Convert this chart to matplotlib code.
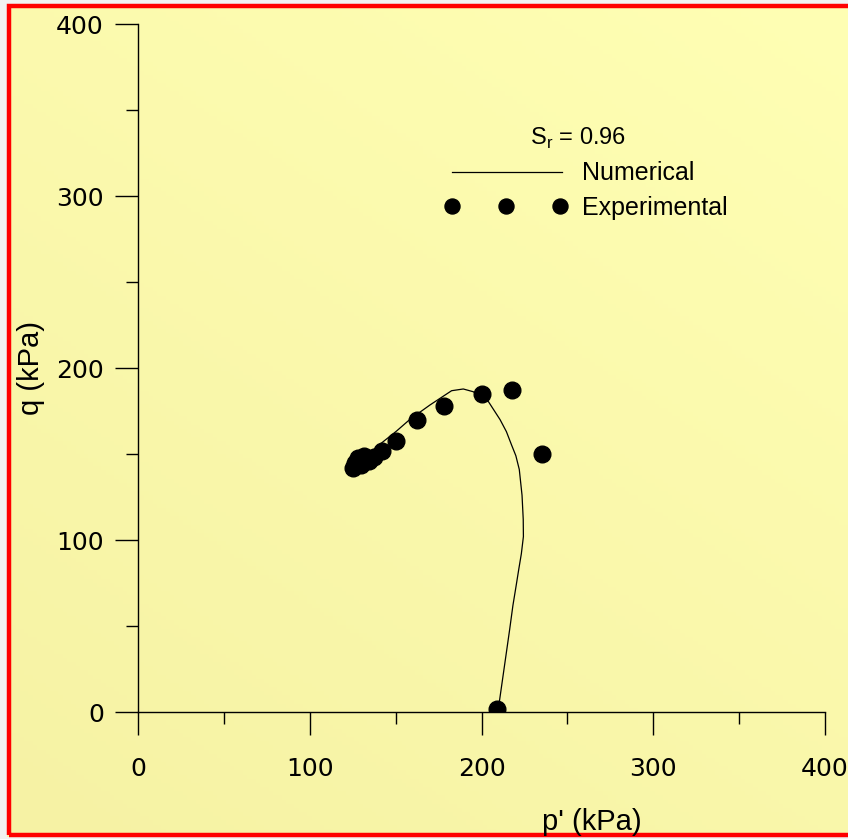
import numpy as np
import matplotlib
matplotlib.use("Agg")
import matplotlib.pyplot as plt
from matplotlib.patches import Rectangle
from matplotlib.ticker import MultipleLocator

# Experimental stress path (p', q) in kPa
exp_p = [209, 235, 218, 200, 178, 162.5, 150.5, 142, 137.5, 134.5, 131.5, 130, 128, 126.5, 125]
exp_q = [2, 150, 187, 185, 178, 169.5, 157.5, 152, 148.5, 146, 149, 143.5, 147.5, 144.5, 142]

# Numerical stress path (p', q) in kPa
num_p = [209, 210.4, 212.4, 214.4, 216.4, 218.3, 220.1, 221.7, 223.2, 224.4, 224.3, 223.6, 222.0, 220.0,
         217.6, 214.5, 210.8, 204.0, 195.2, 189.4, 182.6, 170.0, 158.4, 150.6, 142.8, 134, 126]
num_q = [0, 6, 20, 34, 48, 62, 73, 83, 92, 102, 112, 126, 141, 149,
         155, 163, 170, 180.5, 186.2, 187.8, 186.8, 178.5, 170.2, 163.4, 157.2, 150, 144]

x_ticks = [0, 100, 200, 300, 400]
y_ticks = [0, 100, 200, 300, 400]
sr_label = "S$_\\mathregular{r}$ = 0.96"

W, H = 848, 839
fig = plt.figure(figsize=(W / 100, H / 100), dpi=100)
fig.patch.set_facecolor("#f2f2f2")

# Panel background with a soft yellow gradient and red frame
bg = fig.add_axes([0, 0, 1, 1], zorder=0)
bg.set_axis_off()
yy, xx = np.mgrid[0:1:200j, 0:1:200j]
t = 0.6 * yy + 0.4 * xx
c0 = np.array([0xF6, 0xF2, 0xA4]) / 255
c1 = np.array([0xFF, 0xFF, 0xB4]) / 255
img = c0[None, None, :] * (1 - t[..., None]) + c1[None, None, :] * t[..., None]
x0, y0 = 7 / W, 1 - 837 / H
bg.imshow(img, extent=[x0, 1.02, y0, 1 - 4 / H], origin="lower", aspect="auto",
          transform=bg.transAxes)
bg.add_patch(Rectangle((x0 + 2 / W, y0 + 2 / H), 1.05 - x0, (1 - 4 / H) - y0 - 4 / H,
                       transform=bg.transAxes, fill=False, edgecolor="#ff0000",
                       linewidth=3.2))
bg.set_xlim(0, 1)
bg.set_ylim(0, 1)

ax = fig.add_axes([138 / W, 1 - 712 / H, 687 / W, 688 / H], zorder=1)
ax.patch.set_alpha(0)

ax.plot(num_p, num_q, color="black", linewidth=0.9, zorder=2)
ax.plot(exp_p, exp_q, linestyle="none", marker="o", markersize=12,
        color="black", zorder=3)

ax.set_xlim(0, 400)
ax.set_ylim(0, 400)
ax.set_xticks(x_ticks)
ax.set_yticks(y_ticks)
ax.xaxis.set_minor_locator(MultipleLocator(50))
ax.yaxis.set_minor_locator(MultipleLocator(50))
for s in ("top", "right"):
    ax.spines[s].set_visible(False)
for s in ("left", "bottom"):
    ax.spines[s].set_linewidth(1.0)
ax.tick_params(which="major", length=16.5, width=1.0, direction="out",
               labelsize=18, pad=16)
ax.tick_params(which="minor", length=8.5, width=1.0, direction="out")
ax.tick_params(axis="y", which="major", pad=8)
for lab in ax.get_xticklabels() + ax.get_yticklabels():
    lab.set_family("DejaVu Sans")

lbl = dict(family="Liberation Sans", fontsize=21, color="black")
ax.text(0.661, -0.160, "p' (kPa)", transform=ax.transAxes, ha="center", va="center", **lbl)
ax.text(-0.156, 0.500, "q (kPa)", transform=ax.transAxes, ha="center", va="center",
        rotation=90, **lbl)

# Legend block
txt = dict(family="Liberation Sans", fontsize=18, color="black")
ax.text(0.640, 0.834, sr_label, transform=ax.transAxes, ha="center", va="center",
        family="Liberation Sans", fontsize=17, color="black")
ax.plot([0.457, 0.617], [0.785, 0.785], transform=ax.transAxes, color="black",
        linewidth=0.9, clip_on=False)
ax.text(0.646, 0.783, "Numerical", transform=ax.transAxes, ha="left", va="center", **txt)
ax.plot([0.457, 0.536, 0.614], [0.735] * 3, transform=ax.transAxes, linestyle="none",
        marker="o", markersize=10.8, color="black", clip_on=False)
ax.text(0.646, 0.733, "Experimental", transform=ax.transAxes, ha="left", va="center", **txt)

fig.savefig("out.png", dpi=100, facecolor=fig.get_facecolor())
